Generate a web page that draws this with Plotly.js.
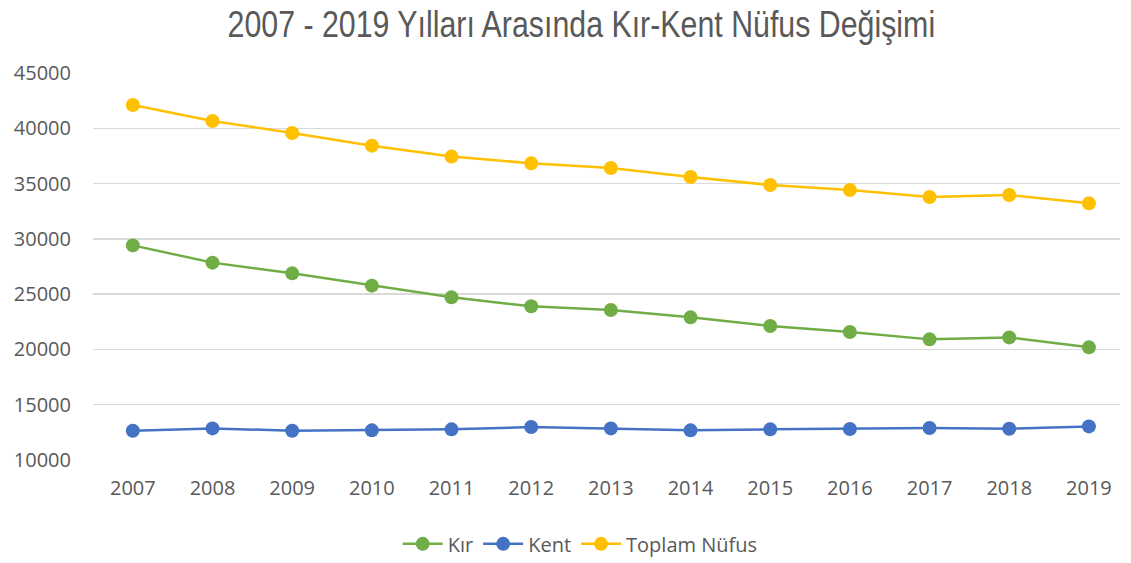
<!DOCTYPE html>
<html>
<head>
<meta charset="utf-8">
<script src="https://cdn.plot.ly/plotly-3.0.1.min.js"></script>
<style>html,body{margin:0;padding:0;background:#fff;}#chart{width:1131px;height:563px;}</style>
</head>
<body>
<div id="chart"></div>
<script>
const years = ["2007","2008","2009","2010","2011","2012","2013","2014","2015","2016","2017","2018","2019"];
const kir = [29410,27850,26880,25770,24710,23900,23570,22900,22120,21580,20910,21090,20190];
const kent = [12650,12860,12650,12680,12770,12980,12860,12680,12770,12800,12890,12830,13040];
const toplam = [42100,40660,39570,38430,37440,36830,36410,35600,34870,34420,33790,33970,33210];
const seriesNames = ["Kır","Kent","Toplam Nüfus"];
const yTicks = [10000,15000,20000,25000,30000,35000,40000,45000];

function trace(name, y, color){
  return {x: years, y: y, name: name, type: 'scatter', mode: 'lines+markers',
    line: {color: color, width: 2.5}, marker: {color: color, size: 14}};
}
const data = [
  trace(seriesNames[0], kir, '#70AD47'),
  trace(seriesNames[1], kent, '#4472C4'),
  trace(seriesNames[2], toplam, '#FFC000')
];
const font = "'Open Sans', 'Liberation Sans', sans-serif";
const layout = {
  width: 1131, height: 563,
  margin: {l: 93, r: 11, t: 73, b: 103},
  paper_bgcolor: '#fff', plot_bgcolor: '#fff',
  title: {text: '2007 - 2019 Yılları Arasında Kır-Kent Nüfus Değişimi',
    font: {family: "'Liberation Sans Narrow', 'Arial Narrow', 'Liberation Sans', sans-serif", size: 37, color: '#595959'},
    xref: 'container', x: 0.514, xanchor: 'center', yref: 'container', y: 0.958, yanchor: 'middle'},
  xaxis: {type: 'category', range: [-0.5, 12.39], showgrid: false, zeroline: false,
    showline: false, ticks: '', ticklabelstandoff: 14,
    tickfont: {family: font, size: 20, color: '#595959'}},
  yaxis: {range: [10000, 45000], tickvals: yTicks, ticktext: yTicks.map(String),
    showgrid: true, gridcolor: '#D9D9D9', gridwidth: 1.3, zeroline: false, showline: false,
    ticks: '', ticklabelstandoff: 21,
    tickfont: {family: font, size: 20, color: '#595959'}},
  showlegend: true,
  legend: {orientation: 'h', xref: 'container', x: 0.513, xanchor: 'center',
    yref: 'container', y: 0.034, yanchor: 'middle',
    font: {family: font, size: 20, color: '#595959'}, itemwidth: 40, tracegroupgap: 0},
  hovermode: false
};
Plotly.newPlot('chart', data, layout, {displayModeBar: false, staticPlot: true}).then(function(gd){
  // emulate a condensed (narrow) face for the title
  const t = gd.querySelector('.gtitle');
  if (t) {
    const cx = parseFloat(t.getAttribute('x')) || 581;
    t.setAttribute('transform', 'translate(' + cx + ',0) scale(0.82,1) translate(' + (-cx) + ',0)');
  }
});
</script>
</body>
</html>
